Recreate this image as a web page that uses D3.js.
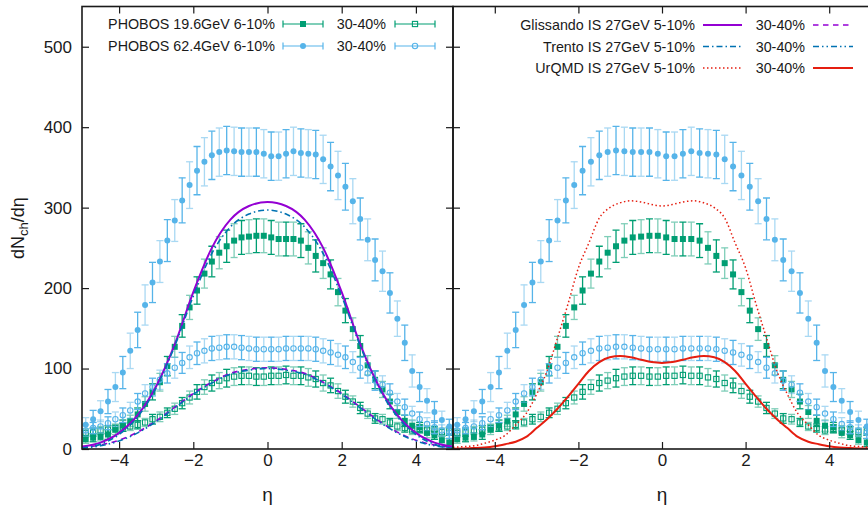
<!DOCTYPE html>
<html><head><meta charset="utf-8">
<script src="https://cdn.jsdelivr.net/npm/d3@7"></script>
<style>
body{margin:0;background:#fff}
svg{display:block}
text{font-family:"Liberation Sans",Arial,Helvetica,sans-serif;fill:#1a1a1a}
</style>
</head><body>
<svg id="c" width="868" height="505"></svg>
<script>
// ---------- data ----------
const eta = [-4.9,-4.7,-4.5,-4.3,-4.1,-3.9,-3.7,-3.5,-3.3,-3.1,-2.9,-2.7,-2.5,-2.3,-2.1,-1.9,-1.7,-1.5,-1.3,-1.1,-0.9,-0.7,-0.5,-0.3,-0.1,
             0.1,0.3,0.5,0.7,0.9,1.1,1.3,1.5,1.7,1.9,2.1,2.3,2.5,2.7,2.9,3.1,3.3,3.5,3.7,3.9,4.1,4.3,4.5,4.7,4.9];

// PHOBOS 19.6 GeV 6-10%
const p196c = [12,14,15,18,24,29,35,43,56,71,83,103,127,153,176,197,218,233,244,252,259,263,264,265,265,
               263,261,261,261,259,250,240,231,217,195,172,149,128,104,86,74,59,46,35,29,27,20,17,11,8];
const p196cErr = [5,5,5,6,6,7,7,8,9,10,11,12,13,14,15,17,18,19,20,20,21,21,21,21,21,
                  21,21,21,21,21,20,20,19,18,17,15,14,13,12,11,10,9,8,7,7,6,6,5,5,5];
// PHOBOS 19.6 GeV 30-40%
const p196p = [20,21,23,24,26,27,28,30,33,37,40,45,50,57,64,71,77,82,85,88,90,91,91,90,90,
               91,91,92,91,91,89,87,82,79,72,65,59,51,44,38,37,33,28,26,23,25,24,23,21,22];
const p196pErr = [5,5,5,5,5,5,5,5,5,6,6,6,7,7,8,9,9,10,10,11,11,11,11,11,11,
                  11,11,11,11,11,11,10,10,9,9,8,7,7,6,6,6,5,5,5,5,5,5,5,5,5];
// PHOBOS 62.4 GeV 6-10%
const p624c = [30,37,47,59,77,95,122,148,179,207,233,259,284,309,328,346,357,365,369,371,370,369,369,369,367,
               364,364,367,370,368,367,366,360,351,340,326,308,286,260,235,221,194,162,132,97,77,60,46,36,28];
const p624cErr = [9,11,13,15,18,20,22,22,25,25,26,26,26,28,29,30,30,30,30,30,30,30,30,30,30,
                  30,30,30,30,30,30,30,30,30,30,29,28,26,26,26,25,25,22,22,20,18,15,13,11,9];
// PHOBOS 62.4 GeV 30-40%
const p624p = [23,26,28,32,37,42,48,59,69,77,86,94,101,107,114,119,122,125,126,127,127,126,125,124,124,
               124,124,125,125,125,125,124,122,120,117,114,108,101,94,85,80,70,59,52,44,37,31,27,23,20];
const p624pErr = [7,7,8,8,9,9,10,10,11,11,12,12,13,13,14,14,15,15,15,15,15,15,15,15,15,
                  15,15,15,15,15,15,15,15,15,14,14,13,13,12,12,11,11,10,10,9,9,8,8,7,7];

// model curves (0.5 step grid)
const etaModel = [-5,-4.5,-4,-3.5,-3,-2.5,-2,-1.5,-1,-0.5,0,0.5,1,1.5,2,2.5,3,3.5,4,4.5,5];
const glisC = [3,8,20,42,78,130,195,250,285,302,307,302,285,250,195,130,78,42,20,8,3];
const glisP = [2,5,11,21,35,52,69,83,94,99,101,99,94,83,69,52,35,21,11,5,2];
const trenC = [1,6,18,40,76,128,190,243,276,292,297,292,276,243,190,128,76,40,18,6,1];
const trenP = [1,4,10,20,34,51,68,82,93,98,100,98,93,82,68,51,34,20,10,4,1];
// UrQMD curves (0.25 step grid)
const etaUrqmd = [-5,-4.75,-4.5,-4.25,-4,-3.75,-3.5,-3.25,-3,-2.75,-2.5,-2.25,-2,-1.75,-1.5,-1.25,-1,-0.75,-0.5,-0.25,0,
                  0.25,0.5,0.75,1,1.25,1.5,1.75,2,2.25,2.5,2.75,3,3.25,3.5,3.75,4,4.25,4.5,4.75,5];
const urqC = [2,3,4,7,11,17,30,44,68,97,138,180,225,256,287,300,306,308.5,307,304,302,
              304,307,308.5,306,300,287,256,225,180,138,97,68,44,30,17,11,7,4,3,2];
const urqP = [0.4,0.7,1.2,2,3.5,6,9,15,26,37,50,65,81,97,108,114,115.5,114,111,108,107,
              108,111,114,115.5,114,108,97,81,65,50,37,26,15,9,6,3.5,2,1.2,0.7,0.4];

const yTicks = [0,100,200,300,400,500];
const xTicks = [-4,-2,0,2,4];

// ---------- setup ----------
const green = "#009e73", blue = "#56b4e9", purple = "#9400d3", tblue = "#0072b2", red = "#e51e10";
const svg = d3.select("#c");
const y = d3.scaleLinear().domain([0,550]).range([449,6.5]);
const xL = d3.scaleLinear().domain([-5,5]).range([82,453]);
const xR = d3.scaleLinear().domain([-5,5]).range([453,871]);

const defs = svg.append("defs");
[["clipL",xL],["clipR",xR]].forEach(([id,x])=>{
  defs.append("clipPath").attr("id",id).append("rect")
    .attr("x",x.range()[0]).attr("y",y.range()[1])
    .attr("width",x.range()[1]-x.range()[0]).attr("height",y.range()[0]-y.range()[1]);
});

const series = [
  {v:p196c, e:p196cErr, c:green, m:"sqF"},
  {v:p196p, e:p196pErr, c:green, m:"sqO"},
  {v:p624c, e:p624cErr, c:blue,  m:"ciF"},
  {v:p624p, e:p624pErr, c:blue,  m:"ciO"}
];

function marker(g, m, c, cx, cy){
  if(m==="sqF") g.append("rect").attr("x",cx-3).attr("y",cy-3).attr("width",6).attr("height",6).attr("fill",c);
  else if(m==="sqO") g.append("rect").attr("x",cx-2.6).attr("y",cy-2.6).attr("width",5.2).attr("height",5.2).attr("fill","none").attr("stroke",c).attr("stroke-width",1.1);
  else if(m==="ciF") g.append("circle").attr("cx",cx).attr("cy",cy).attr("r",3).attr("fill",c);
  else g.append("circle").attr("cx",cx).attr("cy",cy).attr("r",2.7).attr("fill","none").attr("stroke",c).attr("stroke-width",1.1);
}

function drawData(g, x){
  series.forEach(s=>{
    const sg = g.append("g");
    eta.forEach((t,i)=>{
      const cx = x(t), y1 = y(s.v[i]+s.e[i]), y0 = y(Math.max(0,s.v[i]-s.e[i]));
      const op = (i%2===0) ? 0.5 : 1;
      const b = sg.append("g").attr("stroke",s.c).attr("stroke-width",1.3).attr("opacity",op);
      b.append("line").attr("x1",cx).attr("x2",cx).attr("y1",y1).attr("y2",y0);
      b.append("line").attr("x1",cx-3.5).attr("x2",cx+3.5).attr("y1",y1).attr("y2",y1);
      b.append("line").attr("x1",cx-3.5).attr("x2",cx+3.5).attr("y1",y0).attr("y2",y0);
    });
    eta.forEach((t,i)=> marker(sg, s.m, s.c, x(t), y(s.v[i])));
  });
}

function drawCurve(g, x, xs, ys, color, dash, w){
  const line = d3.line().x(d=>x(d[0])).y(d=>y(d[1])).curve(d3.curveMonotoneX);
  g.append("path").datum(xs.map((t,i)=>[t,ys[i]])).attr("d",line)
    .attr("fill","none").attr("stroke",color).attr("stroke-width",w)
    .attr("stroke-dasharray",dash);
}

// ---------- left panel ----------
const gL = svg.append("g").attr("clip-path","url(#clipL)");
drawData(gL, xL);
drawCurve(gL, xL, etaModel, glisC, purple, null, 2);
drawCurve(gL, xL, etaModel, glisP, purple, "5.5,4.5", 1.6);
drawCurve(gL, xL, etaModel, trenC, tblue, "6,3,1.5,3", 1.6);
drawCurve(gL, xL, etaModel, trenP, tblue, "6,3,1.5,3,1.5,3", 1.6);

// ---------- right panel ----------
const gR = svg.append("g").attr("clip-path","url(#clipR)");
drawData(gR, xR);
drawCurve(gR, xR, etaUrqmd, urqC, red, "1.5,2.5", 1.5);
drawCurve(gR, xR, etaUrqmd, urqP, red, null, 2);

// ---------- axes ----------
function styleAxis(sel, labels){
  sel.select(".domain").remove();
  sel.selectAll(".tick line").attr("stroke","#1a1a1a").attr("stroke-width",1.2);
  if(!labels) sel.selectAll(".tick text").remove();
  else sel.selectAll(".tick text").attr("font-size",17).attr("font-family","Liberation Sans, Arial, sans-serif").attr("fill","#1a1a1a");
}
// left panel
styleAxis(svg.append("g").attr("transform","translate(82,0)").call(d3.axisLeft(y).tickValues(yTicks).tickSize(-7).tickPadding(10)), true);
styleAxis(svg.append("g").attr("transform","translate(453,0)").call(d3.axisRight(y).tickValues(yTicks).tickSize(-7)), false);
styleAxis(svg.append("g").attr("transform","translate(0,449)").call(d3.axisBottom(xL).tickValues(xTicks).tickSize(-7).tickPadding(5)), true);
styleAxis(svg.append("g").attr("transform","translate(0,6.5)").call(d3.axisTop(xL).tickValues(xTicks).tickSize(-7)), false);
// right panel
styleAxis(svg.append("g").attr("transform","translate(453,0)").call(d3.axisLeft(y).tickValues(yTicks).tickSize(-7)), false);
styleAxis(svg.append("g").attr("transform","translate(0,449)").call(d3.axisBottom(xR).tickValues(xTicks).tickSize(-7).tickPadding(5)), true);
styleAxis(svg.append("g").attr("transform","translate(0,6.5)").call(d3.axisTop(xR).tickValues(xTicks).tickSize(-7)), false);

// borders
svg.append("rect").attr("x",82).attr("y",6.5).attr("width",371).attr("height",442.5)
  .attr("fill","none").attr("stroke","#1a1a1a").attr("stroke-width",1.6);
svg.append("rect").attr("x",453).attr("y",6.5).attr("width",418).attr("height",442.5)
  .attr("fill","none").attr("stroke","#1a1a1a").attr("stroke-width",1.6);

// axis labels
svg.append("text").attr("x",267.5).attr("y",501).attr("text-anchor","middle").attr("font-size",19).text("η");
svg.append("text").attr("x",662).attr("y",501).attr("text-anchor","middle").attr("font-size",19).text("η");
const yl = svg.append("text").attr("transform","translate(24,228) rotate(-90)").attr("text-anchor","middle").attr("font-size",18);
yl.append("tspan").text("dN");
yl.append("tspan").attr("font-size",13).attr("dy",4).text("ch");
yl.append("tspan").attr("dy",-4).text("/dη");

// ---------- legends ----------
function legErr(x0, x1, yy, c, m){
  const g = svg.append("g").attr("stroke",c).attr("stroke-width",1.2);
  g.append("line").attr("x1",x0).attr("x2",x1).attr("y1",yy).attr("y2",yy);
  g.append("line").attr("x1",x0).attr("x2",x0).attr("y1",yy-3.5).attr("y2",yy+3.5);
  g.append("line").attr("x1",x1).attr("x2",x1).attr("y1",yy-3.5).attr("y2",yy+3.5);
  marker(svg, m, c, (x0+x1)/2, yy);
}
function legTxt(x, yy, s){
  svg.append("text").attr("x",x).attr("y",yy+5).attr("text-anchor","end").attr("font-size",14.3).text(s);
}
const legRowsL = [["PHOBOS 19.6GeV 6-10%", green, "sqF", "sqO"], ["PHOBOS 62.4GeV 6-10%", blue, "ciF", "ciO"]];
legRowsL.forEach((r,i)=>{
  const yy = 24 + i*22;
  legTxt(275, yy, r[0]); legErr(283, 323, yy, r[1], r[2]);
  legTxt(386, yy, "30-40%"); legErr(395, 435, yy, r[1], r[3]);
});
function legLine(x0,x1,yy,c,dash,w){
  svg.append("line").attr("x1",x0).attr("x2",x1).attr("y1",yy).attr("y2",yy)
    .attr("stroke",c).attr("stroke-width",w).attr("stroke-dasharray",dash);
}
const legRowsR = [
  ["Glissando IS 27GeV 5-10%", purple, null, 2, purple, "5.5,4.5", 1.6],
  ["Trento IS 27GeV 5-10%", tblue, "6,3,1.5,3", 1.6, tblue, "6,3,1.5,3,1.5,3", 1.6],
  ["UrQMD IS 27GeV 5-10%", red, "1.5,2.5", 1.5, red, null, 2]
];
legRowsR.forEach((r,i)=>{
  const yy = 25 + i*21.5;
  legTxt(695, yy, r[0]); legLine(703, 742, yy, r[1], r[2], r[3]);
  legTxt(805, yy, "30-40%"); legLine(813, 853, yy, r[4], r[5], r[6]);
});
</script>
</body></html>
